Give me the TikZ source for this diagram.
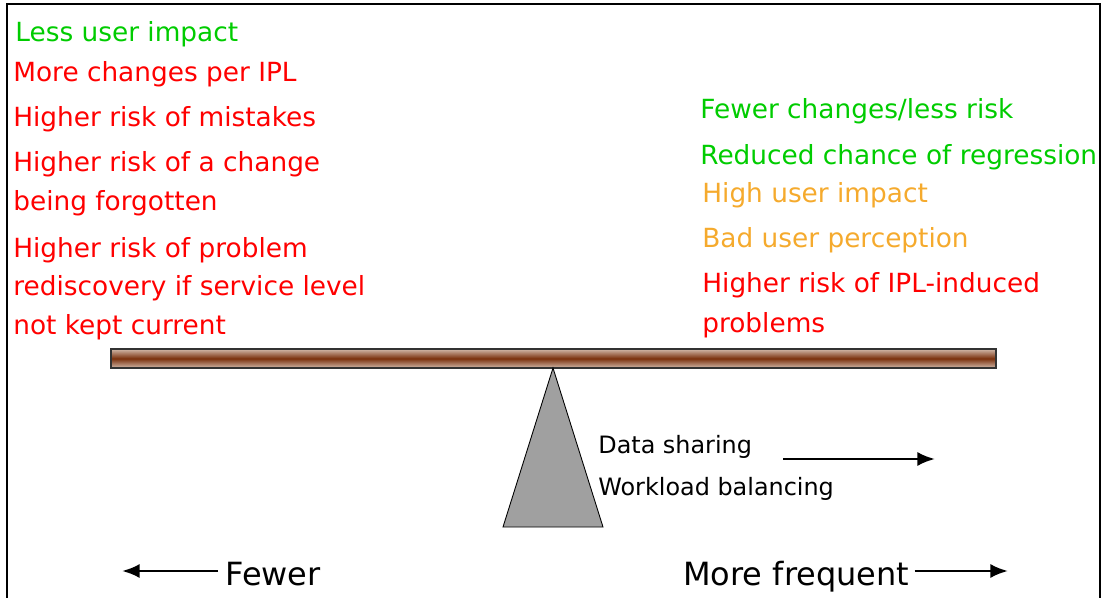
\documentclass[tikz,border=0pt]{standalone}
\usepackage{fontspec}
\setmainfont{DejaVu Sans}
\usetikzlibrary{positioning,arrows.meta}

\definecolor{goodgreen}{RGB}{0,204,0}
\definecolor{badred}{RGB}{255,0,0}
\definecolor{mehorange}{RGB}{245,170,45}
\definecolor{beamedge}{RGB}{210,185,170}
\definecolor{beamcore}{RGB}{122,48,12}
\definecolor{pivotgray}{RGB}{160,160,160}

\tikzset{
    point/.style={anchor=base west, inner sep=0pt, text=#1,
        font=\fontsize{15}{17}\selectfont},
    note/.style={anchor=base west, inner sep=0pt,
        font=\fontsize{13.6}{15}\selectfont},
    axislabel/.style={anchor=base west, inner sep=0pt,
        font=\fontsize{18.2}{20}\selectfont},
    beam/.style={draw=black!80, line width=0.8pt,
        top color=beamedge, bottom color=beamedge, middle color=beamcore,
        minimum width=17.7cm, minimum height=0.38cm, inner sep=0pt},
    pivot/.style={draw=black, fill=pivotgray, line width=0.5pt},
    longarrow/.style={-{Latex[length=10pt,width=8pt]}, line width=1.5pt}
}

\begin{document}
\begin{tikzpicture}[x=0.02cm, y=-0.02cm]

\useasboundingbox (0,0) rectangle (1103,598);

% frame, open at the bottom
\draw[line width=1pt] (7,598) -- (7,4) -- (1100,4) -- (1100,598);

% ===============================
%       Fewer IPLs (left)
% ===============================

\node[point=goodgreen] (less)   at (15,42)  {Less user impact};
\node[point=badred]    (more)   at (13,82)  {More changes per IPL};
\node[point=badred]    (mist)   at (13,127) {Higher risk of mistakes};
\node[point=badred]    (forg1)  at (13,172) {Higher risk of a change};
\node[point=badred]    (forg2)  at (13,211) {being forgotten};
\node[point=badred]    (redis1) at (13,257) {Higher risk of problem};
\node[point=badred]    (redis2) at (13,296) {rediscovery if service level};
\node[point=badred]    (redis3) at (13,334) {not kept current};

% ===============================
%     More frequent IPLs (right)
% ===============================

\node[point=goodgreen] (fewer)  at (700,119) {Fewer changes/less risk};
\node[point=goodgreen] (regr)   at (700,165) {Reduced chance of regression};
\node[point=mehorange] (high)   at (702,203) {High user impact};
\node[point=mehorange] (bad)    at (702,248) {Bad user perception};
\node[point=badred]    (induc1) at (702,293) {Higher risk of IPL-induced};
\node[point=badred]    (induc2) at (702,332) {problems};

% ===============================
%          seesaw
% ===============================

\node[beam] (beam) at (553.5,358.5) {};
\coordinate (apex) at (553,368);
\draw[pivot] (apex) -- (503,527) -- (603,527) -- cycle;

\node[note] (share) at (598,453) {Data sharing};
\node[note] (wlb)   at (598,495) {Workload balancing};
\coordinate (shareA) at (783,459);
\coordinate (shareB) at (935,459);
\draw[longarrow] (shareA) -- (shareB);

% ===============================
%          axis labels
% ===============================

\node[axislabel] (fewerlbl) at (225,585) {Fewer};
\node[axislabel] (freqlbl)  at (683,585) {More frequent};
\coordinate (leftend)  at (122,571);
\coordinate (rightend) at (1008,571);
\draw[longarrow] (fewerlbl.west |- leftend) ++(-7,0) -- (leftend);
\draw[longarrow] (freqlbl.east |- rightend) ++(5,0) -- (rightend);

\end{tikzpicture}
\end{document}
